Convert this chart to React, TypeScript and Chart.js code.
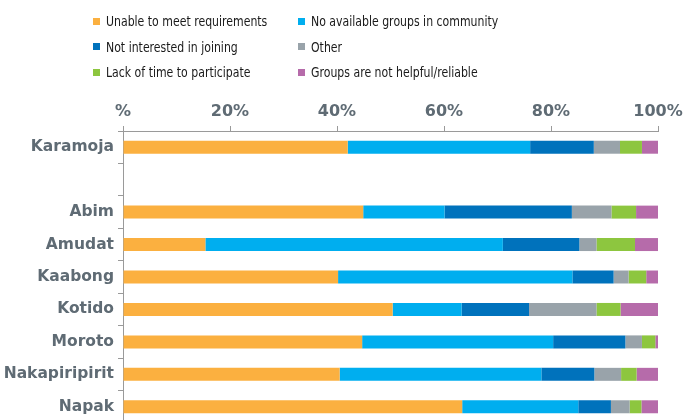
import React, { useEffect, useRef } from 'react';
import { Chart, registerables } from 'chart.js';
Chart.register(...registerables);

const categories = ['Karamoja', '', 'Abim', 'Amudat', 'Kaabong', 'Kotido', 'Moroto', 'Nakapiripirit', 'Napak'];
const seriesNames = [
  'Unable to meet requirements',
  'No available groups in community',
  'Not interested in joining',
  'Other',
  'Lack of time to participate',
  'Groups are not helpful/reliable',
];
const seriesColors = ['#FBB040', '#00AEEF', '#0072BC', '#99A3AA', '#8DC63F', '#B66BAA'];
const unable = [42.0, null, 44.9, 15.4, 40.2, 50.4, 44.7, 40.5, 63.4];
const noGroups = [34.1, null, 15.2, 55.6, 43.8, 12.9, 35.7, 37.7, 21.7];
const notInterested = [11.9, null, 23.8, 14.3, 7.7, 12.6, 13.5, 9.9, 6.1];
const other = [4.9, null, 7.4, 3.2, 2.8, 12.6, 3.1, 5.0, 3.5];
const lackTime = [4.1, null, 4.6, 7.2, 3.3, 4.5, 2.5, 2.9, 2.2];
const notHelpful = [3.0, null, 4.1, 4.3, 2.2, 7.0, 0.5, 4.0, 3.1];
const seriesValues = [unable, noGroups, notInterested, other, lackTime, notHelpful];
const xTicks = [0, 20, 40, 60, 80, 100];

const TEXT = '#5f6b74';
const AXIS = '#9a9a9a';

export default function App() {
  const ref = useRef<HTMLCanvasElement | null>(null);
  useEffect(() => {
    if (!ref.current) return;
    const chart = new Chart(ref.current, {
      type: 'bar',
      data: {
        labels: categories,
        datasets: seriesNames.map((name, i) => ({
          label: name,
          data: seriesValues[i],
          backgroundColor: seriesColors[i],
          borderWidth: 0,
          categoryPercentage: 1,
          barPercentage: 0.4,
        })),
      },
      options: {
        indexAxis: 'y',
        responsive: false,
        animation: false,
        devicePixelRatio: 1,
        layout: { padding: { left: 0, right: 30, top: 0, bottom: 0 } },
        plugins: { legend: { display: false }, tooltip: { enabled: false } },
        scales: {
          x: {
            type: 'linear',
            position: 'top',
            stacked: true,
            min: 0,
            max: 100,
            afterFit: (s: any) => { s.height = 131; s.paddingLeft = 0; s.paddingRight = 0; },
            afterBuildTicks: (s: any) => { s.ticks = xTicks.map((v) => ({ value: v })); },
            ticks: {
              stepSize: 20,
              padding: 5,
              color: TEXT,
              font: { family: '"DejaVu Sans", Verdana, sans-serif', size: 16, weight: 'bold' },
              callback: (v: any) => (v === 0 ? '%' : v + '%'),
            },
            grid: { drawOnChartArea: false, tickLength: 5, color: AXIS, lineWidth: 1 },
            border: { color: AXIS, width: 1 },
          },
          y: {
            stacked: true,
            afterFit: (s: any) => { s.width = 123; s.paddingTop = 0; s.paddingBottom = 0; },
            ticks: {
              padding: 4,
              color: TEXT,
              font: { family: '"DejaVu Sans", Verdana, sans-serif', size: 15.5, weight: 'bold' },
            },
            grid: { drawOnChartArea: false, tickLength: 5, color: AXIS, lineWidth: 1, offset: true },
            border: { color: AXIS, width: 1 },
          },
        },
      },
    });
    return () => chart.destroy();
  }, []);

  const colX = [93, 298];
  const rowY = [21, 46.5, 72];
  return (
    <div style={{ position: 'absolute', left: 0, top: 0, width: 688, height: 420, overflow: 'hidden', background: '#fff' }}>
      <canvas ref={ref} width={688} height={423} style={{ position: 'absolute', left: 0, top: 0, width: 688, height: 423 }} />
      {seriesNames.map((name, i) => {
        const c = i % 2;
        const r = Math.floor(i / 2);
        return (
          <div key={name} style={{ position: 'absolute', left: colX[c], top: rowY[r] - 10, height: 20, display: 'flex', alignItems: 'center', whiteSpace: 'nowrap' }}>
            <span style={{ display: 'inline-block', width: 7, height: 7, background: seriesColors[i], marginRight: 6 }} />
            <span style={{ display: 'inline-block', fontFamily: '"DejaVu Sans", sans-serif', fontSize: 13.5, color: '#1a1a1a', transform: 'scaleX(0.81)', transformOrigin: 'left center' }}>{name}</span>
          </div>
        );
      })}
    </div>
  );
}
